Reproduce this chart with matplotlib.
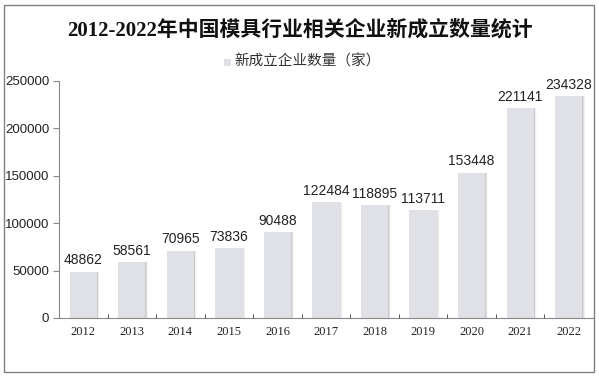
import numpy as np
import matplotlib.pyplot as plt
from matplotlib.patches import Rectangle

# 数据
years = ['2012', '2013', '2014', '2015', '2016', '2017', '2018', '2019', '2020', '2021', '2022']
counts = [48862, 58561, 70965, 73836, 90488, 122484, 118895, 113711, 153448, 221141, 234328]

W, H = 599, 379
fig = plt.figure(figsize=(W / 100, H / 100), dpi=100)
fig.patch.set_facecolor('white')

# 外框
fig.patches.append(Rectangle((4 / W, 1 - 372 / H), 590 / W, 367 / H, transform=fig.transFigure,
                             fill=False, edgecolor='#808080', linewidth=1.0))

ax = fig.add_axes([59 / W, 1 - 318 / H, 534 / W, 237 / H])

x = np.arange(len(years))
bw = 0.56
# 右侧阴影（渐变）
for i, a in enumerate([0.22, 0.14, 0.08, 0.04]):
    ax.bar(x + 0.015 + i * 0.015, counts, width=bw, color='#808080', alpha=a, zorder=1, linewidth=0)
ax.bar(x, counts, width=bw, color='#dfe1e6', zorder=2, linewidth=0)

for xi, v in zip(x, counts):
    ax.text(xi, v + 4500, str(v), ha='center', va='bottom', fontsize=10,
            family='Liberation Sans', color='#222222')

ax.set_xlim(-0.5, len(years) - 0.5)
ax.set_ylim(0, 250000)
ax.set_yticks(np.arange(0, 250001, 50000))
ax.set_yticklabels([str(v) for v in range(0, 250001, 50000)], family='Liberation Sans',
                   fontsize=9.5, color='#222222')
ax.set_xticks(x)
ax.set_xticklabels(years, family='Liberation Serif', fontsize=9, color='#222222')
ax.set_xticks(np.arange(0.5, len(years) - 0.5, 1), minor=True)
ax.tick_params(axis='x', which='major', length=0, pad=6)
ax.tick_params(axis='x', which='minor', length=3, direction='in', color='#333333')
ax.tick_params(axis='y', length=4, color='#888888', pad=3)

for s in ['top', 'right']:
    ax.spines[s].set_visible(False)
ax.spines['left'].set_color('#888888')
ax.spines['bottom'].set_color('#888888')
ax.spines['left'].set_linewidth(0.8)
ax.spines['bottom'].set_linewidth(0.8)

# 标题
fig.text(300 / W, 1 - 30 / H, '2012-2022年中国模具行业相关企业新成立数量统计', ha='center', va='center',
         fontsize=15, fontweight='bold', family=['Liberation Serif', 'Noto Sans CJK SC'],
         color='#111111')

# 图例
fig.patches.append(Rectangle((224 / W, 1 - 66 / H), 7 / W, 7 / H, transform=fig.transFigure,
                             facecolor='#dfe1e6', edgecolor='none'))
fig.text(234 / W, 1 - 62 / H, '新成立企业数量（家）', ha='left', va='center', fontsize=10.5,
         family=['Noto Sans CJK SC', 'DejaVu Sans'], color='#333333')

fig.savefig('out.png', dpi=100)
